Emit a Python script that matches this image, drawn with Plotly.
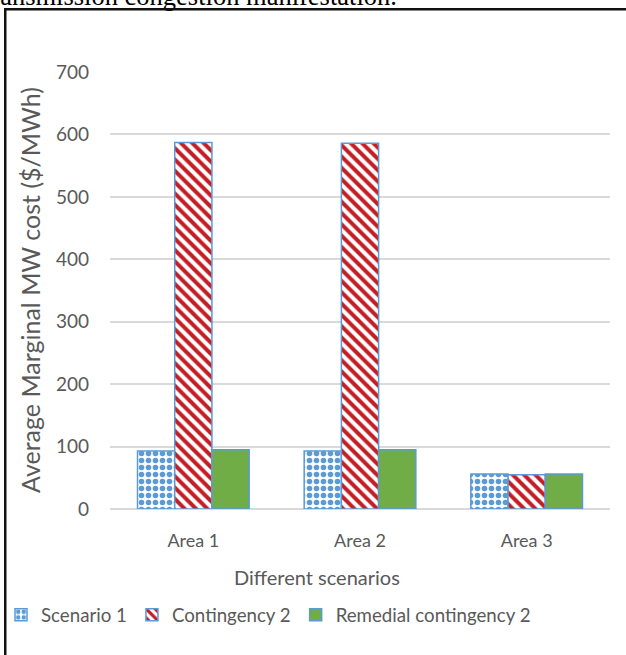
import plotly.graph_objects as go

# Average marginal MW cost per area under each scenario ($/MWh)
categories = ["Area 1", "Area 2", "Area 3"]
scenario_1 = [93, 93, 56]
contingency_2 = [587, 586, 55]
remedial_contingency_2 = [95, 95, 56]

W, H = 626, 655
L, R, T, B = 110, 16, 72, 146
PW, PH = W - L - R, H - T - B


def px_x(x):
    return (x - L) / PW


def px_y(y):
    return 1 - (y - T) / PH


FONT = "Lato"
GREY = "#595959"
OUTLINE = "#5B9BD5"

fig = go.Figure()
fig.add_trace(go.Bar(
    name="Scenario 1", x=categories, y=scenario_1,
    marker=dict(color="white", line=dict(color=OUTLINE, width=1.5),
                pattern=dict(shape=".", fgcolor="#5B9BD5", bgcolor="white",
                             size=7, solidity=0.5, fillmode="replace")),
))
fig.add_trace(go.Bar(
    name="Contingency 2", x=categories, y=contingency_2,
    marker=dict(color="white", line=dict(color=OUTLINE, width=1.5),
                pattern=dict(shape="\\", fgcolor="#C41E25", bgcolor="white",
                             size=8, solidity=0.5, fillmode="replace")),
))
fig.add_trace(go.Bar(
    name="Remedial contingency 2", x=categories, y=remedial_contingency_2,
    marker=dict(color="#70AD47", line=dict(color=OUTLINE, width=1.5)),
))

fig.update_layout(
    width=W, height=H,
    margin=dict(l=L, r=R, t=T, b=B, autoexpand=False),
    paper_bgcolor="white", plot_bgcolor="white",
    barmode="group", bargap=0.33, bargroupgap=0,
    font=dict(family=FONT, color=GREY, size=18),
    showlegend=True,
    legend=dict(orientation="h", x=px_x(1), xanchor="left",
                y=px_y(615), yanchor="middle",
                font=dict(family=FONT, size=18.7, color=GREY),
                itemwidth=30, bgcolor="rgba(0,0,0,0)"),
    xaxis=dict(showgrid=False, showline=False, ticks="",
               tickfont=dict(family=FONT, size=18, color=GREY),
               ticklabelstandoff=19),
    yaxis=dict(range=[0, 700], dtick=100, showgrid=True,
               gridcolor="#D9D9D9", gridwidth=1.5,
               zeroline=True, zerolinecolor="#D9D9D9", zerolinewidth=1.5,
               showline=False, ticks="",
               tickfont=dict(family=FONT, size=19, color=GREY),
               ticklabelstandoff=20),
)

# Axis titles
fig.add_annotation(text="Different scenarios", xref="paper", yref="paper",
                   x=px_x(317), y=px_y(577), xanchor="center", yanchor="middle",
                   showarrow=False, font=dict(family=FONT, size=20, color=GREY))
fig.add_annotation(text="Average Marginal MW cost ($/MWh)", xref="paper", yref="paper",
                   x=px_x(30), y=px_y(290), xanchor="center", yanchor="middle",
                   textangle=-90, showarrow=False,
                   font=dict(family=FONT, size=25, color=GREY))

# Tail of the paragraph line above the chart frame
fig.add_annotation(text="transmission congestion manifestation.", xref="paper", yref="paper",
                   x=px_x(399), y=px_y(-4), xanchor="right", yanchor="middle",
                   showarrow=False,
                   font=dict(family="Liberation Serif", size=26.5, color="black"))

# Chart frame: a transparent box whose left and top edges sit on the page,
# the other two run off past the page edge
fig.add_annotation(text=" ", xref="paper", yref="paper",
                   x=px_x(4), y=px_y(8), xanchor="left", yanchor="top",
                   width=760, height=760, showarrow=False,
                   bordercolor="#111111", borderwidth=2.5, borderpad=0,
                   bgcolor="rgba(0,0,0,0)")

fig.write_html("out.html")
